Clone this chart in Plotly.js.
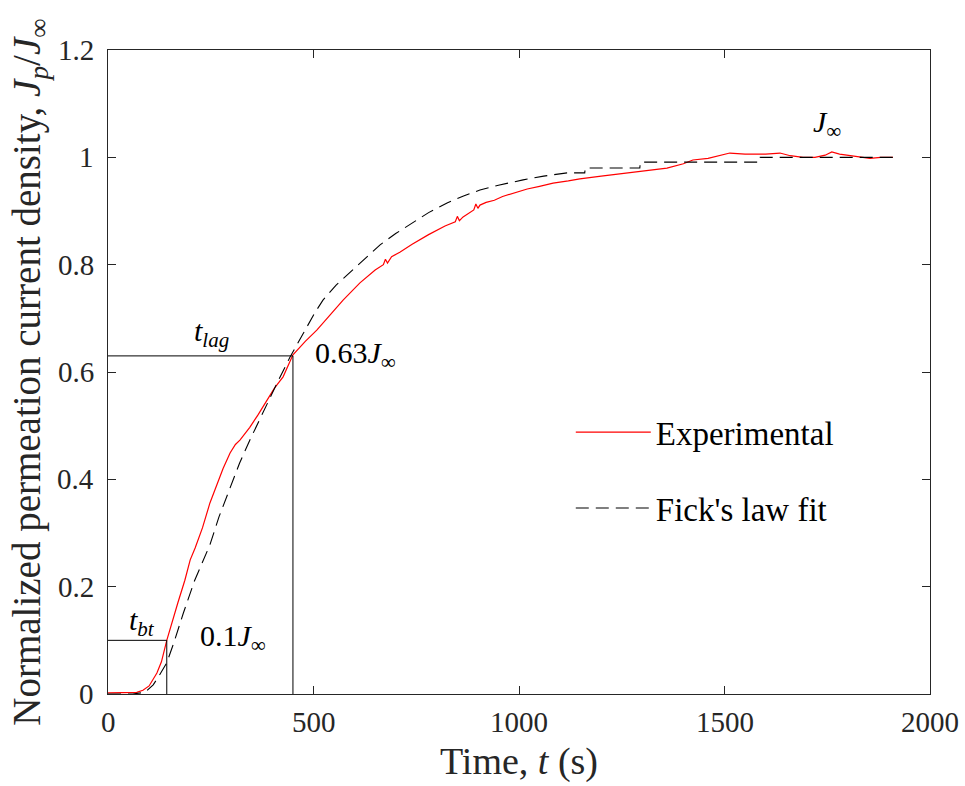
<!DOCTYPE html>
<html>
<head>
<meta charset="utf-8">
<script src="https://cdn.plot.ly/plotly-3.0.1.min.js"></script>
<style>html,body{margin:0;padding:0;background:#fff;}#plot{width:965px;height:786px;}</style>
</head>
<body>
<div id="plot"></div>
<script>
// Experimental normalized permeation current
const expT = [0, 40, 70, 85, 100, 119, 130, 143, 155, 170, 187, 200, 212, 230, 248, 265, 280, 297, 310, 321, 345, 365, 387, 405, 426, 450, 480, 508, 540, 572, 613, 650, 670, 675, 680, 690, 710, 740, 780, 820, 845, 850, 855, 864, 890, 895, 900, 905, 920, 940, 960, 985, 1020, 1050, 1083, 1120, 1148, 1200, 1250, 1290, 1319, 1360, 1400, 1423, 1460, 1490, 1513, 1550, 1600, 1635, 1660, 1691, 1720, 1745, 1761, 1780, 1820, 1854, 1880, 1910];
const expJ = [0.002, 0.002, 0.003, 0.007, 0.015, 0.039, 0.06, 0.1, 0.132, 0.17, 0.212, 0.25, 0.272, 0.31, 0.356, 0.39, 0.42, 0.449, 0.465, 0.473, 0.497, 0.52, 0.548, 0.57, 0.591, 0.632, 0.657, 0.678, 0.706, 0.734, 0.766, 0.79, 0.80, 0.81, 0.803, 0.815, 0.823, 0.838, 0.856, 0.872, 0.88, 0.89, 0.882, 0.889, 0.902, 0.913, 0.905, 0.911, 0.916, 0.92, 0.927, 0.933, 0.941, 0.946, 0.952, 0.956, 0.960, 0.965, 0.970, 0.973, 0.976, 0.980, 0.988, 0.995, 0.998, 1.004, 1.008, 1.006, 1.006, 1.008, 1.003, 1.0, 1.0, 1.004, 1.01, 1.006, 1.001, 0.998, 1.0, 1.0];
// Fick's law fit
const fitT = [0, 60, 90, 110, 125, 143, 160, 183, 210, 248, 270, 297, 320, 345, 365, 387, 415, 443, 465, 484, 503, 523, 555, 589, 625, 662, 700, 742, 780, 825, 865, 905, 950, 1010, 1060, 1117, 1160, 1161, 1294, 1295, 1586, 1587, 1910];
const fitJ = [0, 0, 0.003, 0.017, 0.035, 0.058, 0.095, 0.15, 0.21, 0.278, 0.33, 0.386, 0.43, 0.473, 0.505, 0.542, 0.585, 0.628, 0.657, 0.684, 0.71, 0.734, 0.762, 0.786, 0.812, 0.837, 0.858, 0.879, 0.897, 0.915, 0.928, 0.939, 0.948, 0.958, 0.965, 0.971, 0.971, 0.980, 0.980, 0.991, 0.991, 1.0, 1.0];
// Characteristic times and levels
const tBt = 143, levelBt = 0.1;
const tLag = 450, levelLag = 0.63;
// Ticks and tick labels
const xTicks = [0, 500, 1000, 1500, 2000];
const xTickLabels = ['0', '500', '1000', '1500', '2000'];
const yTicks = [0, 0.2, 0.4, 0.6, 0.8, 1, 1.2];
const yTickLabels = ['0', '0.2', '0.4', '0.6', '0.8', '1', '1.2'];

const serif = 'Liberation Serif';
const axCol = '#262626';

const traces = [
  {x: expT, y: expJ, type: 'scatter', mode: 'lines', name: 'Experimental', legendgroup: 'a',
   line: {color: '#ff0000', width: 1.2}},
  {x: fitT, y: fitJ, type: 'scatter', mode: 'lines', name: "Fick's law fit", legendgroup: 'b',
   line: {color: '#000000', width: 1.1, dash: '13px,7px'}},
  {x: [0, tBt, tBt], y: [levelBt, levelBt, 0], type: 'scatter', mode: 'lines', showlegend: false,
   line: {color: '#000', width: 1}},
  {x: [0, tLag, tLag], y: [levelLag, levelLag, 0], type: 'scatter', mode: 'lines', showlegend: false,
   line: {color: '#000', width: 1}}
];

const annFont = {family: serif, size: 30, color: '#000'};
const tickFont = {family: serif, size: 29, color: axCol};

const tickAnns = xTicks.map((v, i) => ({
  x: v, y: 0, xref: 'x', yref: 'paper', yshift: -28, xanchor: 'center', yanchor: 'middle',
  text: xTickLabels[i], showarrow: false, font: tickFont
})).concat(yTicks.map((v, i) => ({
  x: 0, y: v, xref: 'paper', yref: 'y', xshift: -12, xanchor: 'right', yanchor: 'middle',
  text: yTickLabels[i], showarrow: false, font: tickFont
})));

const layout = {
  width: 965, height: 786,
  margin: {l: 108, r: 35, t: 50, b: 92},
  paper_bgcolor: '#fff', plot_bgcolor: '#fff',
  font: {family: serif, color: axCol},
  showlegend: true,
  legend: {x: 0.563, y: 0.45, xanchor: 'left', yanchor: 'top', bgcolor: 'rgba(0,0,0,0)', itemwidth: 75,
           font: {family: serif, size: 33, color: '#000'}, traceorder: 'grouped', tracegroupgap: 30},
  xaxis: {range: [0, 2000], tickvals: xTicks, ticks: 'inside', ticklen: 8, tickcolor: axCol,
          showline: true, linecolor: axCol, linewidth: 1, mirror: 'ticks', showgrid: false, zeroline: false,
          showticklabels: false,
          title: {text: 'Time, <i>t</i> (s)', font: {family: serif, size: 38, color: axCol}, standoff: 53}},
  yaxis: {range: [0, 1.2], tickvals: yTicks, ticks: 'inside', ticklen: 8, tickcolor: axCol,
          showline: true, linecolor: axCol, linewidth: 1, mirror: 'ticks', showgrid: false, zeroline: false,
          showticklabels: false,
          title: {text: 'Normalized permeation current density, <i>J</i><sub><i>p</i></sub>/<i>J</i><sub>∞</sub>',
                  font: {family: serif, size: 39, color: axCol}, standoff: 54}},
  annotations: tickAnns.concat([
    {x: 83, y: 0.134, xref: 'x', yref: 'y', text: '<i>t</i><sub><i>bt</i></sub>', showarrow: false, font: annFont},
    {x: 219, y: 0.104, xref: 'x', yref: 'y', xanchor: 'left', text: '0.1<i>J</i><sub>∞</sub>', showarrow: false, font: annFont},
    {x: 251, y: 0.673, xref: 'x', yref: 'y', text: '<i>t</i><sub><i>lag</i></sub>', showarrow: false, font: annFont},
    {x: 499, y: 0.632, xref: 'x', yref: 'y', xanchor: 'left', text: '0.63<i>J</i><sub>∞</sub>', showarrow: false, font: annFont},
    {x: 1749, y: 1.062, xref: 'x', yref: 'y', text: '<i>J</i><sub>∞</sub>', showarrow: false, font: annFont}
  ])
};

Plotly.newPlot('plot', traces, layout, {displayModeBar: false, staticPlot: true});
</script>
</body>
</html>
